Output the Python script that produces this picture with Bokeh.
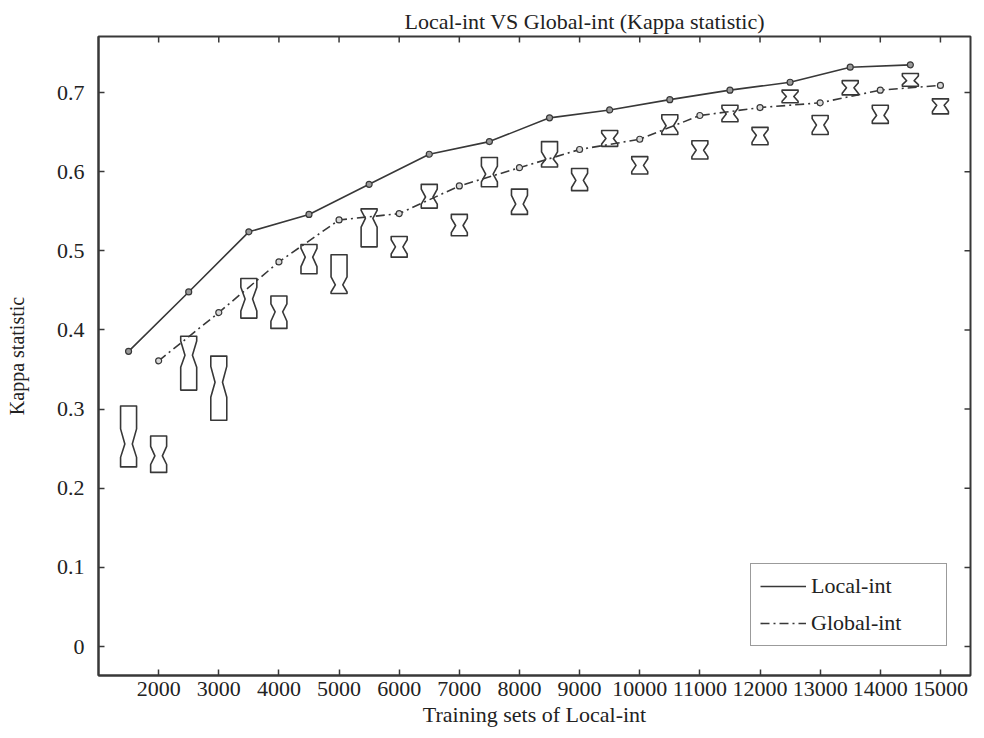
import numpy as np
from bokeh.plotting import figure
from bokeh.models import Range1d, FixedTicker, Legend, LegendItem
from bokeh.embed import file_html
from bokeh.resources import INLINE

# ---------------- data ----------------
local_x = [1500, 2500, 3500, 4500, 5500, 6500, 7500, 8500, 9500, 10500, 11500, 12500, 13500, 14500]
local_int = [0.373, 0.448, 0.524, 0.546, 0.584, 0.622, 0.638, 0.668, 0.678, 0.691, 0.703, 0.713, 0.732, 0.735]

global_x = [2000, 3000, 4000, 5000, 6000, 7000, 8000, 9000, 10000, 11000, 12000, 13000, 14000, 15000]
global_int = [0.361, 0.422, 0.486, 0.539, 0.547, 0.582, 0.605, 0.628, 0.641, 0.671, 0.681, 0.687, 0.703, 0.709]

box_x = [1500, 2000, 2500, 3000, 3500, 4000, 4500, 5000, 5500, 6000, 6500, 7000, 7500, 8000,
         8500, 9000, 9500, 10000, 10500, 11000, 11500, 12000, 12500, 13000, 13500, 14000, 14500, 15000]
box_q1 = [0.227, 0.220, 0.324, 0.286, 0.415, 0.402, 0.471, 0.446, 0.505, 0.492, 0.554, 0.519, 0.581, 0.546,
          0.606, 0.576, 0.632, 0.597, 0.647, 0.616, 0.663, 0.634, 0.687, 0.647, 0.697, 0.661, 0.708, 0.673]
box_med = [0.256, 0.241, 0.368, 0.334, 0.439, 0.423, 0.492, 0.457, 0.541, 0.505, 0.568, 0.532, 0.597, 0.559,
           0.616, 0.589, 0.642, 0.608, 0.658, 0.627, 0.673, 0.646, 0.695, 0.659, 0.706, 0.671, 0.715, 0.684]
box_q3 = [0.304, 0.266, 0.392, 0.367, 0.465, 0.443, 0.508, 0.495, 0.553, 0.518, 0.584, 0.546, 0.618, 0.578,
          0.638, 0.604, 0.652, 0.619, 0.672, 0.639, 0.684, 0.656, 0.703, 0.671, 0.715, 0.684, 0.724, 0.692]
notch_lo = [0.239, 0.230, 0.353, 0.315, 0.424, 0.411, 0.480, 0.448, 0.530, 0.496, 0.559, 0.523, 0.587, 0.550,
            0.609, 0.580, 0.635, 0.600, 0.650, 0.619, 0.666, 0.637, 0.689, 0.650, 0.699, 0.664, 0.710, 0.676]
notch_hi = [0.275, 0.253, 0.386, 0.354, 0.454, 0.433, 0.503, 0.467, 0.551, 0.514, 0.578, 0.541, 0.607, 0.570,
            0.625, 0.598, 0.649, 0.616, 0.667, 0.635, 0.680, 0.653, 0.701, 0.667, 0.712, 0.680, 0.721, 0.690]

x_ticks = [2000, 3000, 4000, 5000, 6000, 7000, 8000, 9000, 10000, 11000, 12000, 13000, 14000, 15000]
y_ticks = [0, 0.1, 0.2, 0.3, 0.4, 0.5, 0.6, 0.7]

title_text = "Local-int VS Global-int (Kappa statistic)"
x_label = "Training sets of Local-int"
y_label = "Kappa statistic"

# ---------------- style ----------------
INK = "#383838"
TXT = "#222222"
FONT = "Liberation Serif"
FS = "22px"
FS_Y = "20px"
HALF_W = 133   # box half width in data units
NECK = 62      # half width at median notch
X0, X1 = 1000, 15500
Y0, Y1 = -0.0366, 0.7708

p = figure(width=975, height=729, output_backend="svg", toolbar_location=None,
           x_range=Range1d(X0, X1), y_range=Range1d(Y0, Y1),
           min_border_left=98, min_border_right=5, min_border_top=36, min_border_bottom=54,
           background_fill_color="white", border_fill_color="white")
p.grid.visible = False
p.outline_line_color = INK
p.outline_line_width = 2

p.title.text = title_text
p.title.text_font = FONT
p.title.text_font_size = FS
p.title.text_font_style = "normal"
p.title.text_color = TXT
p.title.align = "left"
p.title.offset = 306
p.title.standoff = 6

for ax in (p.xaxis[0], p.yaxis[0]):
    ax.major_label_text_font = FONT
    ax.major_label_text_font_size = FS
    ax.major_label_text_color = TXT
    ax.axis_label_text_font = FONT
    ax.axis_label_text_font_style = "normal"
    ax.axis_label_text_color = TXT
    ax.axis_line_color = INK
    ax.axis_line_width = 2
    ax.major_tick_line_color = INK
    ax.major_tick_line_width = 1.5
    ax.major_tick_in = 6
    ax.major_tick_out = 0
    ax.minor_tick_line_color = None

p.xaxis[0].ticker = FixedTicker(ticks=x_ticks)
p.yaxis[0].ticker = FixedTicker(ticks=y_ticks)
p.yaxis[0].major_label_overrides = {0: "0"}
p.xaxis[0].axis_label = x_label
p.yaxis[0].axis_label = y_label
p.xaxis[0].axis_label_text_font_size = FS
p.yaxis[0].axis_label_text_font_size = FS_Y
p.xaxis[0].major_label_standoff = 6
p.xaxis[0].axis_label_standoff = 3
p.yaxis[0].major_label_standoff = 14
p.yaxis[0].axis_label_standoff = 26

# mirrored inward ticks on top and right edges (MATLAB-style box)
p.ray(x=x_ticks, y=[Y1] * len(x_ticks), length=6, length_units="screen",
      angle=-np.pi / 2, line_color=INK, line_width=1.5)
p.ray(x=[X1] * len(y_ticks), y=y_ticks, length=6, length_units="screen",
      angle=np.pi, line_color=INK, line_width=1.5)

# ---------------- notched boxes ----------------
xs, ys = [], []
for x, q1, m, q3, nl, nh in zip(box_x, box_q1, box_med, box_q3, notch_lo, notch_hi):
    xs.append([x - HALF_W, x - HALF_W, x - NECK, x - HALF_W, x - HALF_W,
               x + HALF_W, x + HALF_W, x + NECK, x + HALF_W, x + HALF_W])
    ys.append([q1, nl, m, nh, q3, q3, nh, m, nl, q1])
p.patches(xs, ys, fill_alpha=0, line_color=INK, line_width=1.6, line_join="round")

# ---------------- lines ----------------
r_local = p.line(local_x, local_int, line_color=INK, line_width=1.6)
p.scatter(local_x, local_int, marker="circle", size=6, fill_color="#9a9a9a", line_color=INK, line_width=1.2)

r_global = p.line(global_x, global_int, line_color=INK, line_width=1.6, line_dash="9 4 2 4")
p.scatter(global_x, global_int, marker="circle", size=6, fill_color="#d8d8d8", line_color=INK, line_width=1.2)

legend = Legend(items=[LegendItem(label="Local-int", renderers=[r_local]),
                       LegendItem(label="Global-int", renderers=[r_global])],
                location=(652, 29))
legend.label_text_font = FONT
legend.label_text_font_size = FS
legend.label_text_color = TXT
legend.border_line_color = INK
legend.border_line_width = 1.6
legend.background_fill_color = "white"
legend.background_fill_alpha = 1
legend.padding = 9
legend.spacing = 11
legend.glyph_width = 46
legend.glyph_height = 20
legend.label_height = 20
legend.label_standoff = 5
legend.label_width = 126
legend.margin = 0
p.add_layout(legend, "center")

open("out.html", "w").write(file_html(p, INLINE))
